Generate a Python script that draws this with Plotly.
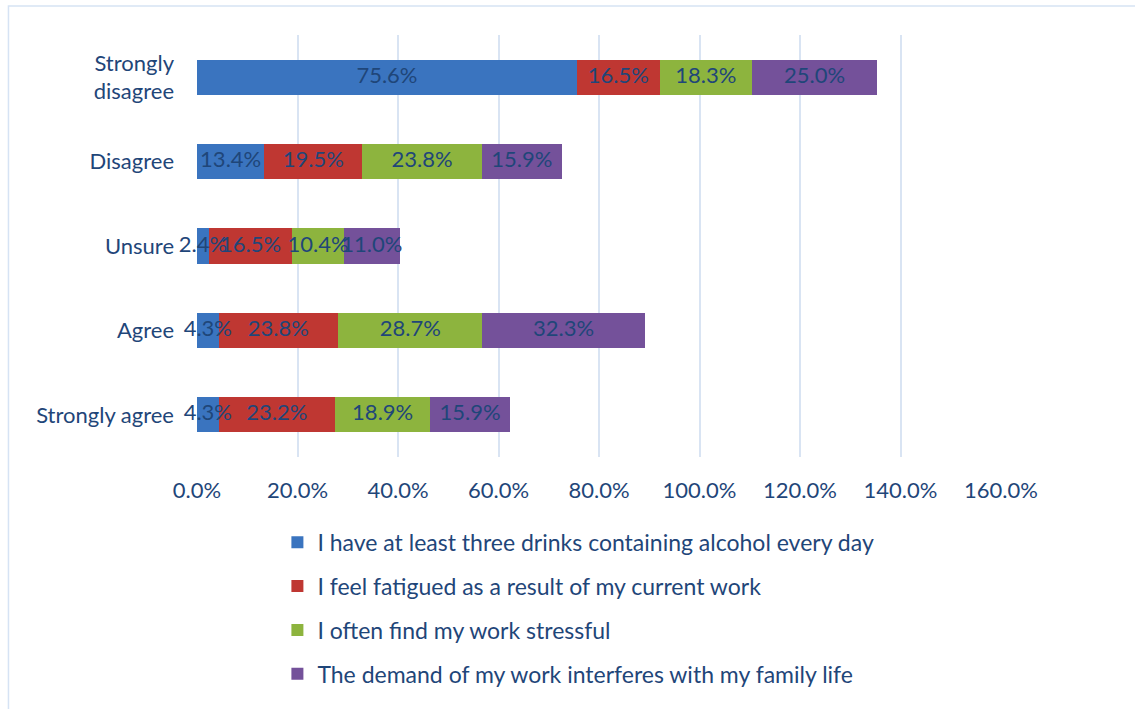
import plotly.graph_objects as go

# Survey response categories (top to bottom)
categories = ["Strongly<br>disagree", "Disagree", "Unsure", "Agree", "Strongly agree"]

# Share of respondents (%) per statement
alcohol = [75.6, 13.4, 2.4, 4.3, 4.3]
fatigue = [16.5, 19.5, 16.5, 23.8, 23.2]
stress = [18.3, 23.8, 10.4, 28.7, 18.9]
family = [25.0, 15.9, 11.0, 32.3, 15.9]

series_names = [
    "I have at least three drinks containing alcohol every day",
    "I feel fatigued as a result of my current work",
    "I often find my work stressful",
    "The demand of my work interferes with my family life",
]
series_values = [alcohol, fatigue, stress, family]
series_colors = ["#3A74BF", "#BF3732", "#8DB43E", "#74519A"]

tick_vals = [0, 20, 40, 60, 80, 100, 120, 140, 160]
tick_text = ["0.0%", "20.0%", "40.0%", "60.0%", "80.0%", "100.0%", "120.0%", "140.0%", "160.0%"]

FONT = "Lato"
FS = 22
TEXT_BLUE = "#1F4679"

fig = go.Figure()
for i, (name, vals, col) in enumerate(zip(series_names, series_values, series_colors)):
    fig.add_trace(go.Bar(
        y=categories,
        x=vals,
        name=name,
        orientation="h",
        marker=dict(color=col, line=dict(width=0)),
        legendgroup=f"g{i}",
    ))

# Value labels on top of every segment, centred in the segment
starts = [0.0] * len(categories)
for vals in series_values:
    mids = [s + v / 2 for s, v in zip(starts, vals)]
    fig.add_trace(go.Scatter(
        x=mids,
        y=categories,
        mode="text",
        text=[f"{v:.1f}%" for v in vals],
        textposition="middle center",
        textfont=dict(family=FONT, size=FS, color=TEXT_BLUE),
        showlegend=False,
        hoverinfo="skip",
        cliponaxis=False,
    ))
    starts = [s + v for s, v in zip(starts, vals)]

fig.update_layout(
    width=1135,
    height=709,
    barmode="stack",
    bargap=0.585,
    paper_bgcolor="white",
    plot_bgcolor="white",
    margin=dict(l=197, r=134, t=35, b=252),
    font=dict(family=FONT, size=FS, color=TEXT_BLUE),
    showlegend=True,
    legend=dict(
        orientation="v",
        x=0.1,
        xanchor="left",
        y=-0.151,
        yanchor="top",
        traceorder="grouped",
        tracegroupgap=11,
        font=dict(family=FONT, size=23, color=TEXT_BLUE),
        bgcolor="rgba(0,0,0,0)",
    ),
    xaxis=dict(
        range=[0, 160],
        tickvals=tick_vals,
        ticktext=tick_text,
        showgrid=True,
        gridcolor="#D9E4F3",
        gridwidth=2,
        zeroline=False,
        showline=False,
        ticks="",
        ticklabelstandoff=18,
        tickfont=dict(family=FONT, size=FS, color=TEXT_BLUE),
        fixedrange=True,
    ),
    yaxis=dict(
        autorange="reversed",
        showgrid=False,
        zeroline=False,
        showline=False,
        ticks="",
        ticklabelstandoff=22,
        tickfont=dict(family=FONT, size=FS, color=TEXT_BLUE),
    ),
    shapes=[
        dict(
            type="rect", xref="paper", yref="paper",
            x0=-0.2345, x1=1.5, y0=-1.0, y1=1.0687,
            line=dict(color="#D6E3F4", width=1.5),
            fillcolor="rgba(0,0,0,0)",
            layer="below",
        )
    ],
)

fig.write_html("out.html")
